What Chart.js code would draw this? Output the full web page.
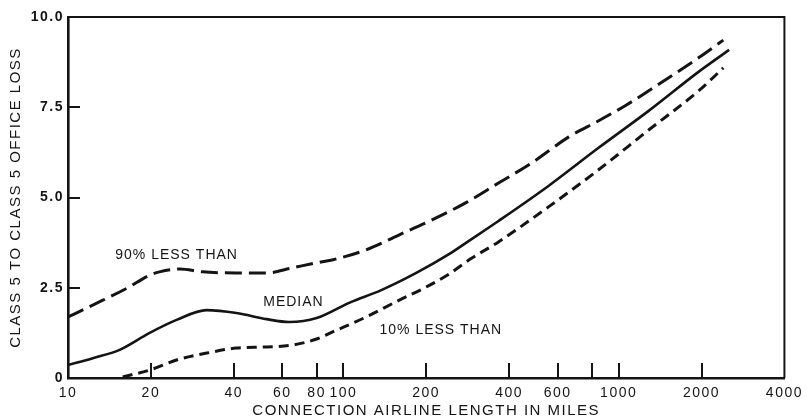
<!DOCTYPE html>
<html>
<head>
<meta charset="utf-8">
<script src="https://cdn.jsdelivr.net/npm/chart.js@4/dist/chart.umd.min.js"></script>
<style>
  html, body { margin: 0; padding: 0; background: #ffffff; }
  canvas { display: block; }
</style>
</head>
<body>
<canvas id="lossChart" width="807" height="420"></canvas>
<script>
// Class 5 to class 5 office loss versus connection airline length (miles)
const p90Miles = [10, 12.3, 16.4, 19.8, 21.5, 25.5, 30.8, 40.9, 52.6, 65, 80, 91, 121, 159, 210, 278, 366, 484, 659, 843, 1060, 1362, 1950, 2400];
const p90Loss  = [1.69, 2.02, 2.49, 2.85, 2.94, 3.02, 2.94, 2.91, 2.91, 3.05, 3.19, 3.27, 3.55, 3.96, 4.38, 4.85, 5.40, 5.96, 6.68, 7.12, 7.55, 8.08, 8.87, 9.36];

const medianMiles = [10, 12.3, 15.4, 19.8, 24.8, 31.9, 40.9, 52.6, 63.6, 80, 105, 138, 184, 242, 286, 366, 556, 843, 1285, 1950, 2520];
const medianLoss  = [0.36, 0.55, 0.78, 1.25, 1.61, 1.88, 1.80, 1.63, 1.55, 1.66, 2.08, 2.44, 2.91, 3.43, 3.80, 4.35, 5.32, 6.37, 7.40, 8.48, 9.09];

const p10Miles = [15.8, 19.8, 24.8, 31.9, 40.9, 52.6, 65, 80, 91, 121, 159, 200, 242, 290, 366, 556, 843, 1285, 1950, 2400];
const p10Loss  = [0.03, 0.22, 0.50, 0.69, 0.83, 0.86, 0.91, 1.08, 1.27, 1.69, 2.15, 2.52, 2.88, 3.30, 3.77, 4.74, 5.76, 6.87, 7.95, 8.59];

const xTickValues = [10, 20, 40, 60, 80, 100, 200, 400, 600, 800, 1000, 2000, 4000];
const xTickLabels = ['10', '20', '40', '60', '80', '100', '200', '400', '600', '', '1000', '2000', '4000'];
const yTickValues = [0, 2.5, 5, 7.5, 10];
const yTickLabels = ['0', '2.5', '5.0', '7.5', '10.0'];

const curveNames = ['90% LESS THAN', 'MEDIAN', '10% LESS THAN'];
const curveNameMiles = [24.8, 65.9, 226];
const curveNameLoss = [3.41, 2.10, 1.33];

const INK = '#141414';
const FONT = "'Liberation Sans', Arial, Helvetica, sans-serif";

function toPoints(xs, ys) {
  return xs.map((x, i) => ({ x: x, y: ys[i] }));
}

// Box frame, inward tick marks and curve captions
const framePlugin = {
  id: 'frame',
  beforeDraw(chart) {
    chart.ctx.letterSpacing = '1.5px';
  },
  afterDraw(chart) {
    chart.ctx.letterSpacing = '0px';
  },
  afterDatasetsDraw(chart) {
    const { ctx, chartArea: a, scales } = chart;
    ctx.save();
    ctx.strokeStyle = INK;
    ctx.lineCap = 'butt';

    // top and right edges of the box
    ctx.lineWidth = 2;
    ctx.beginPath();
    ctx.moveTo(a.left, a.top);
    ctx.lineTo(a.right, a.top);
    ctx.lineTo(a.right, a.bottom);
    ctx.stroke();

    // tick marks pointing into the plot
    ctx.lineWidth = 2;
    ctx.beginPath();
    scales.x.ticks.forEach(t => {
      if (t.value <= 10 || t.value >= 4000) return;
      const px = Math.round(scales.x.getPixelForValue(t.value));
      ctx.moveTo(px, a.bottom);
      ctx.lineTo(px, a.bottom - 15);
    });
    scales.y.ticks.forEach(t => {
      if (t.value <= 0 || t.value >= 10) return;
      const py = Math.round(scales.y.getPixelForValue(t.value));
      ctx.moveTo(a.left, py);
      ctx.lineTo(a.left + 12, py);
    });
    ctx.stroke();

    // curve captions
    ctx.fillStyle = INK;
    ctx.font = '14px ' + FONT;
    ctx.letterSpacing = '1px';
    ctx.textAlign = 'center';
    ctx.textBaseline = 'middle';
    curveNames.forEach((name, i) => {
      const px = scales.x.getPixelForValue(curveNameMiles[i]);
      const py = scales.y.getPixelForValue(curveNameLoss[i]);
      ctx.fillText(name, px, py);
    });
    ctx.restore();
  }
};

const lineStyle = {
  borderColor: INK,
  borderWidth: 3,
  pointRadius: 0,
  pointHoverRadius: 0,
  fill: false,
  cubicInterpolationMode: 'monotone',
  borderCapStyle: 'butt',
  borderJoinStyle: 'round'
};

new Chart(document.getElementById('lossChart'), {
  type: 'line',
  data: {
    datasets: [
      Object.assign({ label: '90% LESS THAN', data: toPoints(p90Miles, p90Loss), borderDash: [17, 7] }, lineStyle),
      Object.assign({ label: 'MEDIAN', data: toPoints(medianMiles, medianLoss) }, lineStyle, { borderWidth: 2.6 }),
      Object.assign({ label: '10% LESS THAN', data: toPoints(p10Miles, p10Loss), borderDash: [10, 6] }, lineStyle)
    ]
  },
  options: {
    responsive: false,
    animation: false,
    events: [],
    layout: { padding: { left: 0, right: 21, top: 17, bottom: 0 } },
    plugins: {
      legend: { display: false },
      tooltip: { enabled: false },
      title: { display: false }
    },
    scales: {
      x: {
        type: 'logarithmic',
        min: 10,
        max: 4000,
        afterBuildTicks(scale) {
          scale.ticks = xTickValues.map(v => ({ value: v }));
        },
        afterFit(scale) { scale.height = 42; },
        grid: { display: false, drawTicks: false, tickLength: 0 },
        border: { display: true, color: INK, width: 2.6 },
        ticks: {
          autoSkip: false,
          maxRotation: 0,
          minRotation: 0,
          padding: 7,
          color: INK,
          font: { family: FONT, size: 14 },
          callback(value, index) { return xTickLabels[index]; }
        },
        title: {
          display: true,
          text: 'CONNECTION AIRLINE LENGTH IN MILES',
          color: INK,
          font: { family: FONT, size: 15 },
          padding: { top: 0, bottom: 0 }
        }
      },
      y: {
        type: 'linear',
        min: 0,
        max: 10,
        afterBuildTicks(scale) {
          scale.ticks = yTickValues.map(v => ({ value: v }));
        },
        afterFit(scale) { scale.width = 68; },
        grid: { display: false, drawTicks: false, tickLength: 0 },
        border: { display: true, color: INK, width: 2.6 },
        ticks: {
          padding: 4,
          color: INK,
          font: { family: FONT, size: 14, weight: 'bold' },
          callback(value) {
            const i = yTickValues.indexOf(value);
            return i >= 0 ? yTickLabels[i] : '';
          }
        },
        title: {
          display: true,
          text: 'CLASS 5 TO CLASS 5 OFFICE LOSS',
          color: INK,
          font: { family: FONT, size: 15 },
          padding: { top: 7, bottom: 0 }
        }
      }
    }
  },
  plugins: [framePlugin]
});
</script>
</body>
</html>
